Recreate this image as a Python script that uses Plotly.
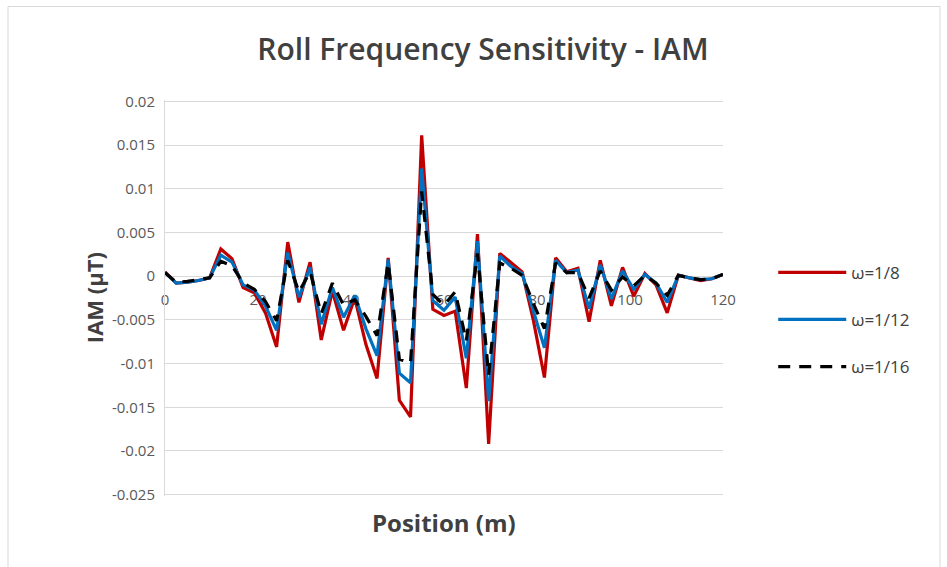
import plotly.graph_objects as go

# Position along the track (m)
position = [0, 2.4, 4.8, 7.2, 9.6, 12, 14.4, 16.8, 19.2, 21.6, 24, 26.4, 28.8, 31.2,
            33.6, 36, 38.4, 40.8, 43.2, 45.6, 48, 50.4, 52.8, 55.2, 57.6, 60, 62.4,
            64.8, 67.2, 69.6, 72, 74.4, 76.8, 79.2, 81.6, 84, 86.4, 88.8, 91.2, 93.6,
            96, 98.4, 100.8, 103.2, 105.6, 108, 110.4, 112.8, 115.2, 117.6, 120]

# IAM (uT) for each roll frequency
iam_w8 = [0.0005, -0.0008, -0.0007, -0.0005, -0.0002, 0.0031, 0.0020, -0.0013, -0.0019,
          -0.0042, -0.0081, 0.0039, -0.0030, 0.0016, -0.0073, -0.0017, -0.0062, -0.0025,
          -0.0078, -0.0117, 0.0021, -0.0142, -0.0161, 0.0161, -0.0038, -0.0045, -0.0040,
          -0.0128, 0.0048, -0.0192, 0.0026, 0.0015, 0.0005, -0.0050, -0.0116, 0.0021,
          0.0005, 0.0009, -0.0052, 0.0018, -0.0034, 0.0010, -0.0023, 0.0003, -0.0010,
          -0.0042, 0.0001, -0.0002, -0.0005, -0.0003, 0.0002]

iam_w12 = [0.0004, -0.0008, -0.0007, -0.0005, -0.0002, 0.0024, 0.0016, -0.0010, -0.0016,
           -0.0034, -0.0062, 0.0027, -0.0024, 0.0010, -0.0055, -0.0013, -0.0047, -0.0022,
           -0.0060, -0.0091, 0.0019, -0.0111, -0.0122, 0.0123, -0.0028, -0.0039, -0.0024,
           -0.0094, 0.0040, -0.0143, 0.0023, 0.0011, 0.0003, -0.0040, -0.0082, 0.0018,
           0.0004, 0.0007, -0.0037, 0.0013, -0.0026, 0.0006, -0.0015, 0.0002, -0.0008,
           -0.0030, 0.0001, -0.0002, -0.0004, -0.0003, 0.0002]

iam_w16 = [0.0004, -0.0007, -0.0006, -0.0004, -0.0002, 0.0017, 0.0012, -0.0008, -0.0015,
           -0.0029, -0.0051, 0.0018, -0.0018, 0.0005, -0.0043, -0.0008, -0.0033, -0.0027,
           -0.0046, -0.0068, 0.0015, -0.0095, -0.0099, 0.0097, -0.0021, -0.0033, -0.0018,
           -0.0074, 0.0026, -0.0113, 0.0015, 0.0009, 0.0001, -0.0031, -0.0060, 0.0015,
           0.0004, 0.0004, -0.0025, 0.0006, -0.0016, -0.0001, -0.0011, 0.0001, -0.0008,
           -0.0022, 0.0001, -0.0002, -0.0004, -0.0003, 0.0002]

y_ticks = [0.02, 0.015, 0.01, 0.005, 0, -0.005, -0.01, -0.015, -0.02, -0.025]
y_tick_text = ["0.02", "0.015", "0.01", "0.005", "0", "-0.005", "-0.01", "-0.015", "-0.02", "-0.025"]
x_ticks = [0, 20, 40, 60, 80, 100, 120]

FONT = "Open Sans"
GRID = "#d9d9d9"
TEXT = "#595959"

fig = go.Figure()
series = [
    ("ω=1/8", iam_w8, "#c00000", "solid"),
    ("ω=1/12", iam_w12, "#0070c0", "solid"),
    ("ω=1/16", iam_w16, "#000000", "12px,9px"),
]
for i, (name, vals, color, dash) in enumerate(series):
    fig.add_trace(go.Scatter(
        x=position, y=vals, mode="lines", name=name, legendgroup=f"g{i}",
        line=dict(color=color, width=3.2, dash=dash),
    ))

y_min, y_max = -0.025, 0.02
pad = 0.00015  # keeps the edge gridlines visible
zero_frac = (0 - (y_min - pad)) / ((y_max + pad) - (y_min - pad))

fig.update_layout(
    width=947, height=567,
    margin=dict(l=165, r=224, t=100, b=71),
    paper_bgcolor="white", plot_bgcolor="white",
    font=dict(family=FONT, color=TEXT),
    title=dict(text="Roll Frequency Sensitivity - IAM", x=0.51, xanchor="center",
               y=0.912, yanchor="middle",
               font=dict(family=FONT, size=30, color="#404040", weight=600)),
    showlegend=True,
    legend=dict(x=1.09, xanchor="left", y=0.445, yanchor="middle",
                font=dict(family=FONT, size=17, color="#404040"),
                itemwidth=68,
                tracegroupgap=22, traceorder="grouped", bgcolor="rgba(0,0,0,0)"),
    xaxis=dict(range=[0, 120], tickvals=x_ticks, showgrid=False, zeroline=False,
               showline=False, anchor="free", position=zero_frac,
               ticks="", ticklabelstandoff=13, layer="below traces",
               tickfont=dict(family=FONT, size=15, color=TEXT)),
    yaxis=dict(range=[y_min - pad, y_max + pad], tickvals=y_ticks, ticktext=y_tick_text,
               showgrid=True, gridcolor=GRID, gridwidth=1, zeroline=False,
               showline=True, linecolor=GRID, linewidth=1, ticks="",
               ticklabelstandoff=6,
               tickfont=dict(family=FONT, size=15, color=TEXT)),
)

# axis titles
fig.add_annotation(text="Position (m)", xref="paper", yref="paper", x=0.5, y=-0.066,
                   xanchor="center", yanchor="middle", showarrow=False,
                   font=dict(family=FONT, size=24, color="#404040", weight="bold"))
fig.add_annotation(text="IAM (μT)", xref="paper", yref="paper", x=-0.127, y=0.5,
                   xanchor="center", yanchor="middle", textangle=-90, showarrow=False,
                   font=dict(family=FONT, size=22, color="#404040", weight="bold"))

# chart area border
fig.add_shape(type="rect", xref="paper", yref="paper",
              x0=(8 - 165) / 558, x1=(940 - 165) / 558,
              y0=(495 - 580) / 394, y1=(495 - 8) / 394,
              line=dict(color=GRID, width=1), fillcolor="rgba(0,0,0,0)", layer="below")

fig.write_html("out.html")
